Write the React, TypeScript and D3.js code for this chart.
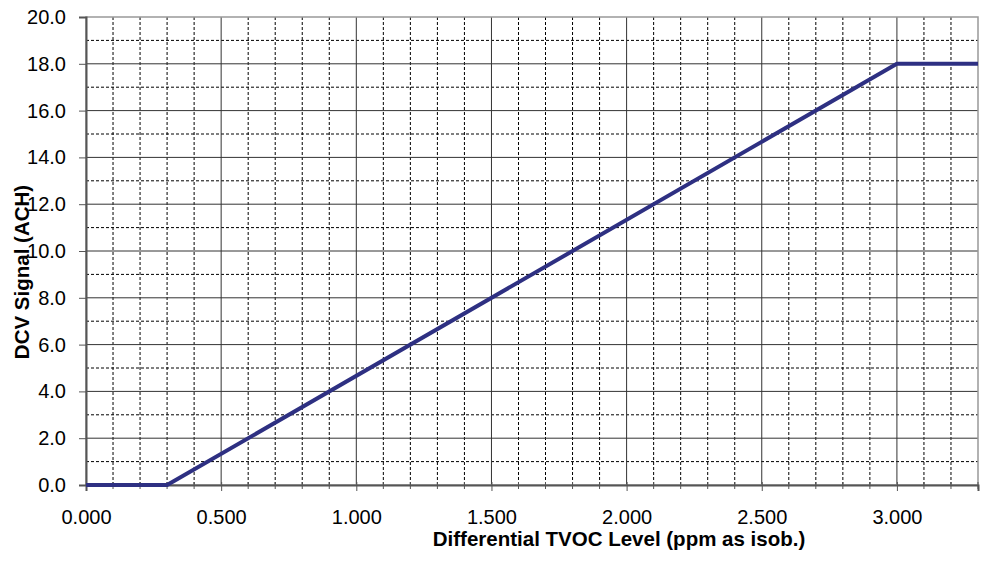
import React, { useEffect, useRef } from 'react';
import * as d3 from 'd3';

// curve points: differential TVOC (ppm) vs DCV signal (ACH)
const tvoc = [0, 0.3, 3.0, 3.3];
const signal = [0, 0, 18, 18];

const yMajorTicks = [0, 2, 4, 6, 8, 10, 12, 14, 16, 18, 20];
const yMinorTicks = [1, 3, 5, 7, 9, 11, 13, 15, 17, 19];
const xMajorTicks = [0, 0.5, 1.0, 1.5, 2.0, 2.5, 3.0];
const xMinorTicks = [0.1, 0.2, 0.3, 0.4, 0.6, 0.7, 0.8, 0.9, 1.1, 1.2, 1.3, 1.4, 1.6, 1.7, 1.8, 1.9, 2.1, 2.2, 2.3, 2.4, 2.6, 2.7, 2.8, 2.9, 3.1, 3.2, 3.3];

const App = () => {
  const svgRef = useRef<SVGSVGElement>(null);

  useEffect(() => {
    const svg = d3.select(svgRef.current)
      .attr('width', 987)
      .attr('height', 561);

    svg.selectAll('*').remove();

    const margin = { top: 17, right: 9, bottom: 76, left: 86 };
    const width = 987 - margin.left - margin.right;
    const height = 561 - margin.top - margin.bottom;
    const font = 'Liberation Sans, Arial, sans-serif';

    const g = svg.append('g')
      .attr('transform', `translate(${margin.left},${margin.top})`);

    const x = d3.scaleLinear().domain([0, 3.3]).range([0, width]);
    const y = d3.scaleLinear().domain([0, 20]).range([height, 0]);

    // minor grid (dashed)
    g.selectAll('.ymin').data(yMinorTicks).join('line')
      .attr('x1', 0).attr('x2', width)
      .attr('y1', d => y(d)).attr('y2', d => y(d))
      .attr('stroke', '#000').attr('stroke-width', 1)
      .attr('stroke-dasharray', '3,2');
    g.selectAll('.xmin').data(xMinorTicks.filter(d => d < 3.29)).join('line')
      .attr('x1', d => x(d)).attr('x2', d => x(d))
      .attr('y1', 0).attr('y2', height)
      .attr('stroke', '#000').attr('stroke-width', 1)
      .attr('stroke-dasharray', '3,2');

    // major grid (solid)
    g.selectAll('.ymaj').data(yMajorTicks.slice(1, -1)).join('line')
      .attr('x1', 0).attr('x2', width)
      .attr('y1', d => y(d)).attr('y2', d => y(d))
      .attr('stroke', '#333').attr('stroke-width', 1);
    g.selectAll('.xmaj').data(xMajorTicks.slice(1)).join('line')
      .attr('x1', d => x(d)).attr('x2', d => x(d))
      .attr('y1', 0).attr('y2', height)
      .attr('stroke', '#333').attr('stroke-width', 1);

    // plot border
    g.append('rect')
      .attr('x', 0).attr('y', 0)
      .attr('width', width).attr('height', height)
      .attr('fill', 'none')
      .attr('stroke', '#999').attr('stroke-width', 1.5);

    // y axis
    const yAxis = g.append('g')
      .call(d3.axisLeft(y).tickValues(yMajorTicks).tickSize(7).tickPadding(13).tickFormat(d3.format('.1f')));
    yAxis.select('.domain').attr('stroke', '#555').attr('stroke-width', 2);
    yAxis.selectAll('.tick line').attr('stroke', '#555');
    yAxis.selectAll('text')
      .style('font-family', font)
      .style('font-size', '20px')
      .attr('fill', '#000');

    // x axis
    const xAxis = g.append('g')
      .attr('transform', `translate(0,${height})`)
      .call(d3.axisBottom(x).tickValues(xMajorTicks).tickSize(6).tickPadding(19).tickFormat(d3.format('.3f')));
    xAxis.select('.domain').attr('stroke', '#555').attr('stroke-width', 2);
    xAxis.selectAll('.tick line').attr('stroke', '#555').attr('y1', -3);
    xAxis.selectAll('text')
      .style('font-family', font)
      .style('font-size', '20px')
      .attr('fill', '#000');
    xAxis.selectAll('.minor').data(xMinorTicks).join('line')
      .attr('x1', d => x(d)).attr('x2', d => x(d))
      .attr('y1', -3).attr('y2', 4)
      .attr('stroke', '#555');

    // curve
    const pts = tvoc.map((v, i) => [v, signal[i]] as [number, number]);
    const line = d3.line<[number, number]>()
      .x(d => x(d[0]))
      .y(d => y(d[1]));
    g.append('path')
      .datum(pts)
      .attr('fill', 'none')
      .attr('stroke', '#2E3082')
      .attr('stroke-width', 4)
      .attr('stroke-linejoin', 'round')
      .attr('d', line);

    // axis titles
    svg.append('text')
      .attr('x', 619)
      .attr('y', 546)
      .attr('text-anchor', 'middle')
      .style('font-family', font)
      .style('font-size', '20.5px')
      .style('font-weight', 'bold')
      .text('Differential TVOC Level (ppm as isob.)');

    svg.append('text')
      .attr('transform', 'translate(29,272) rotate(-90)')
      .attr('text-anchor', 'middle')
      .style('font-family', font)
      .style('font-size', '20.5px')
      .style('font-weight', 'bold')
      .text('DCV Signal (ACH)');
  }, []);

  return <svg ref={svgRef} style={{ position: 'absolute', left: 0, top: 0 }}></svg>;
};

export default App;
